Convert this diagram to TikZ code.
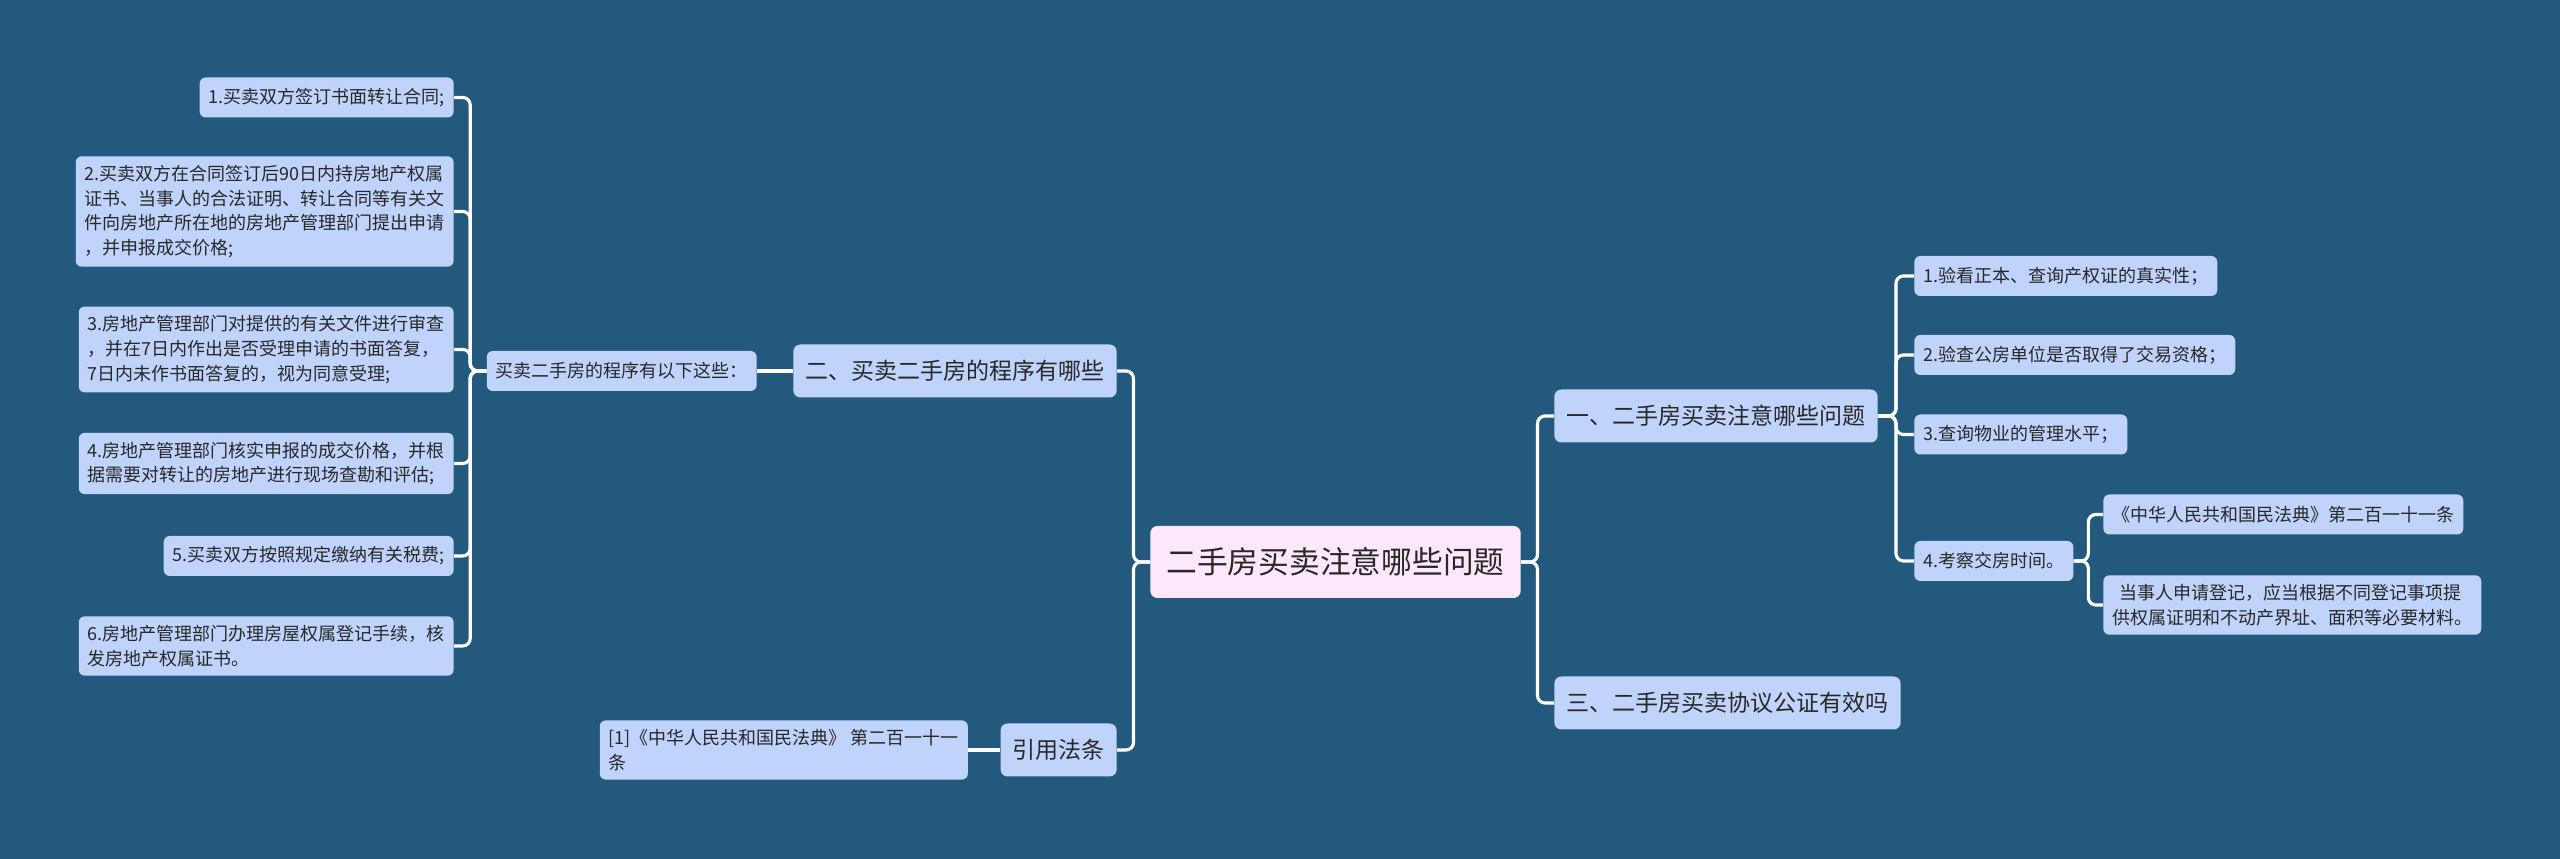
\documentclass[tikz,border=0pt]{standalone}
\usepackage{fontspec}
\newfontfamily\cjk{Noto Sans CJK SC}
\usetikzlibrary{positioning,calc}
\definecolor{bgblue}{RGB}{35,89,124}
\definecolor{nodeblue}{RGB}{191,211,251}
\definecolor{rootpink}{RGB}{253,232,251}
\definecolor{inkgray}{RGB}{40,40,40}

\begin{document}
\begin{tikzpicture}[
    topic/.style={fill=rootpink, rounded corners=0.14cm, text=inkgray, font=\cjk\fontsize{17.5}{21}\selectfont, inner xsep=0.32cm, minimum height=1.44cm},
    branch/.style={fill=nodeblue, rounded corners=0.14cm, text=inkgray, font=\cjk\fontsize{13.1}{16}\selectfont, inner xsep=0.24cm, minimum height=1.06cm},
    leaf/.style={fill=nodeblue, rounded corners=0.12cm, text=inkgray, align=left, font=\cjk\fontsize{10.24}{14}\selectfont, inner xsep=0.18cm, inner ysep=0.18cm, minimum height=0.8cm},
    link/.style={draw=white, line width=1.8pt, rounded corners=0.15cm}
]
\fill[bgblue] (0,0) rectangle (51.2,17.18);
\useasboundingbox (0,0) rectangle (51.2,17.18);

\node[topic] (root) at (26.71,5.94) {二手房买卖注意哪些问题};

\node[branch, anchor=east] (main2) at (22.34,9.76) {二、买卖二手房的程序有哪些};
\node[leaf, left=0.72cm of main2] (steps) {买卖二手房的程序有以下这些：};
\node[leaf, anchor=east] (step1) at (9.08,15.23) {1.买卖双方签订书面转让合同;};
\node[leaf, anchor=east] (step2) at (9.08,12.95) {2.买卖双方在合同签订后90日内持房地产权属\\证书、当事人的合法证明、转让合同等有关文\\件向房地产所在地的房地产管理部门提出申请\\，并申报成交价格;};
\node[leaf, anchor=east] (step3) at (9.08,10.19) {3.房地产管理部门对提供的有关文件进行审查\\，并在7日内作出是否受理申请的书面答复，\\7日内未作书面答复的，视为同意受理;};
\node[leaf, anchor=east] (step4) at (9.08,7.91) {4.房地产管理部门核实申报的成交价格，并根\\据需要对转让的房地产进行现场查勘和评估;};
\node[leaf, anchor=east] (step5) at (9.08,6.06) {5.买卖双方按照规定缴纳有关税费;};
\node[leaf, anchor=east] (step6) at (9.08,4.26) {6.房地产管理部门办理房屋权属登记手续，核\\发房地产权属证书。};

\node[branch, anchor=east] (cite) at (22.34,2.18) {引用法条};
\node[leaf, left=0.64cm of cite] (citesrc) {[1]《中华人民共和国民法典》 第二百一十一\\条};

\node[branch, anchor=west] (main1) at (31.08,8.86) {一、二手房买卖注意哪些问题};
\node[leaf, anchor=west] (tip1) at (38.28,11.66) {1.验看正本、查询产权证的真实性；};
\node[leaf, anchor=west] (tip2) at (38.28,10.08) {2.验查公房单位是否取得了交易资格；};
\node[leaf, anchor=west] (tip3) at (38.28,8.49) {3.查询物业的管理水平；};
\node[leaf, anchor=west] (tip4) at (38.28,5.96) {4.考察交房时间。};
\node[leaf, anchor=west] (law1) at (42.06,6.89) {《中华人民共和国民法典》第二百一十一条};
\node[leaf, anchor=west] (law2) at (42.06,5.08) {\hspace*{0.4em}当事人申请登记，应当根据不同登记事项提\\供权属证明和不动产界址、面积等必要材料。};

\node[branch, anchor=west] (main3) at (31.08,3.12) {三、二手房买卖协议公证有效吗};

\coordinate (jw) at ($(root.west)!0.5!(root.west -| main2.east)$);
\coordinate (je) at ($(root.east)!0.5!(root.east -| main1.west)$);
\coordinate (js) at ($(steps.west)!0.5!(steps.west -| step1.east)$);
\coordinate (jt) at ($(main1.east)!0.5!(main1.east -| tip1.west)$);
\coordinate (jl) at ($(tip4.east)!0.5!(tip4.east -| law1.west)$);

\draw[link] (root.west) -- (jw) |- (main2.east);
\draw[link] (root.west) -- (jw) |- (cite.east);
\draw[link] (root.east) -- (je) |- (main1.west);
\draw[link] (root.east) -- (je) |- (main3.west);
\draw[link] (main2.west) -- (steps.east);
\draw[link] (cite.west) -- (citesrc.east);
\draw[link] (steps.west) -- (js) |- (step1.east);
\draw[link] (steps.west) -- (js) |- (step2.east);
\draw[link] (steps.west) -- (js) |- (step3.east);
\draw[link] (steps.west) -- (js) |- (step4.east);
\draw[link] (steps.west) -- (js) |- (step5.east);
\draw[link] (steps.west) -- (js) |- (step6.east);
\draw[link] (main1.east) -- (jt) |- (tip1.west);
\draw[link] (main1.east) -- (jt) |- (tip2.west);
\draw[link] (main1.east) -- (jt) |- (tip3.west);
\draw[link] (main1.east) -- (jt) |- (tip4.west);
\draw[link] (tip4.east) -- (jl) |- (law1.west);
\draw[link] (tip4.east) -- (jl) |- (law2.west);
\end{tikzpicture}
\end{document}
